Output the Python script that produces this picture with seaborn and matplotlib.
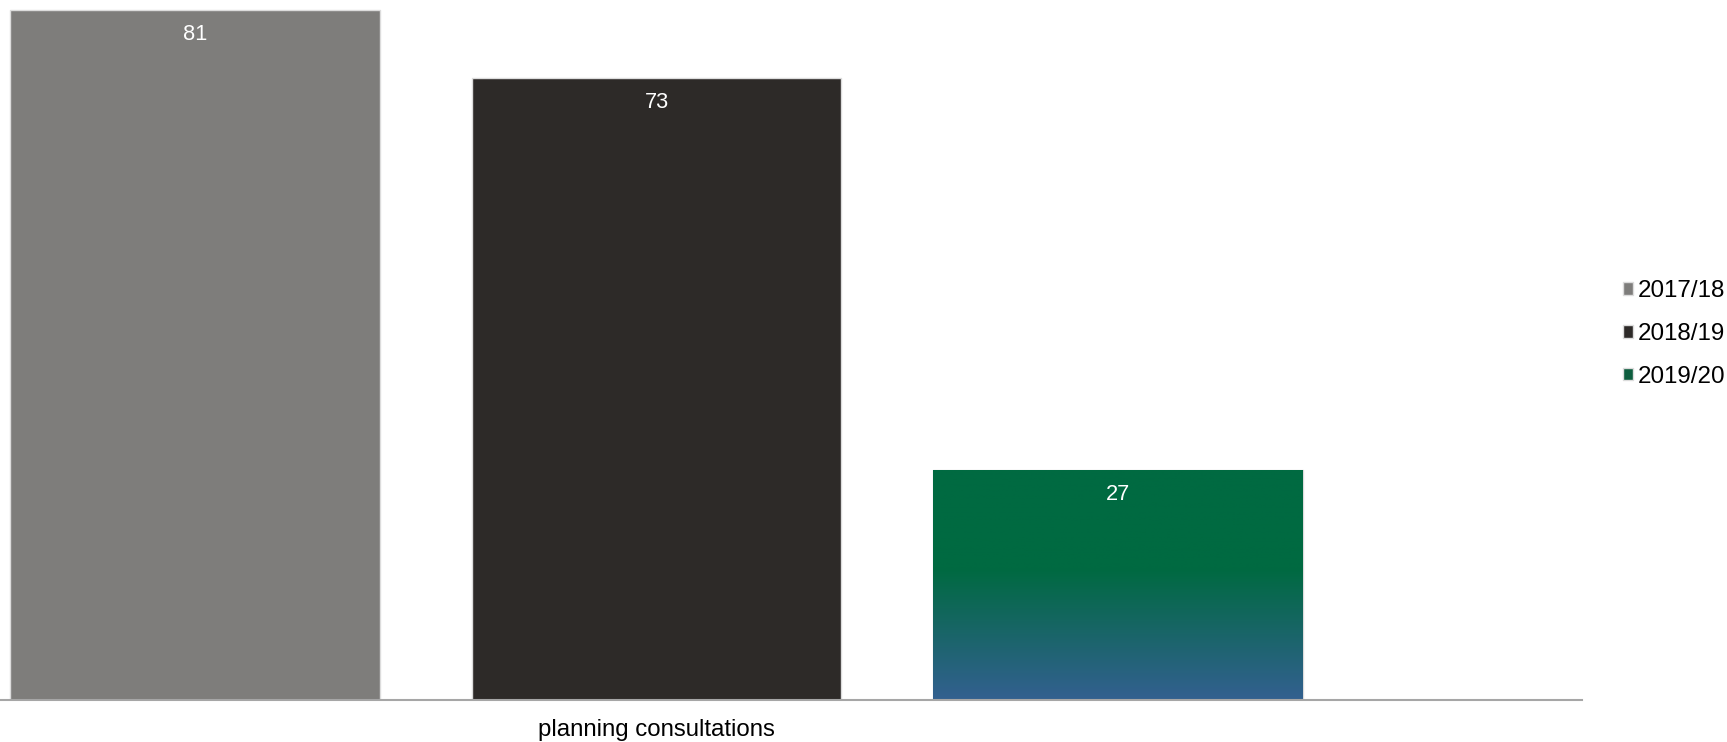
import numpy as np
import pandas as pd
import seaborn as sns
import matplotlib.pyplot as plt
from matplotlib.colors import LinearSegmentedColormap

# data
years = ['2017/18', '2018/19', '2019/20']
values = [81, 73, 27]
category = 'planning consultations'
bar_colors = ['#7f7d7a', '#2e2a27', '#006a41']

df = pd.DataFrame({'year': years, 'value': values})

sns.set_style('white')
plt.rcParams['font.family'] = ['Liberation Sans', 'DejaVu Sans']

fig = plt.figure(figsize=(17.27, 7.42), dpi=100)
ax = fig.add_axes([0, 42 / 742, 1582 / 1727, 700 / 742])

sns.barplot(data=df, x='year', y='value', hue='year', palette=bar_colors,
            width=0.8, edgecolor='#dcdcdc', linewidth=1, ax=ax, legend=True)

# gradient fill on the last bar (green on top, blue at the bottom)
grad = LinearSegmentedColormap.from_list(
    'gb', [(0, '#336090'), (0.57, '#006a41'), (1, '#006a41')])
p = ax.patches[2]
x0, y0 = p.get_x(), p.get_y()
w, h = p.get_width(), p.get_height()
img = ax.imshow(np.linspace(0, 1, 256).reshape(-1, 1), cmap=grad, origin='lower',
                extent=[x0, x0 + w, y0, y0 + h], aspect='auto', zorder=1.5)
img.set_clip_path(p)

ax.set_xlim(-195 / 461.5, (1582 - 195) / 461.5)
ax.set_ylim(0, 81 * 700 / 690)

# value labels inside the bar tops
for cont in ax.containers:
    for t in ax.bar_label(cont, padding=-17.5, color='white', fontsize=15.7):
        t.set_va('center')
        t.set_zorder(3)

# axis styling
for s in ['top', 'left', 'right']:
    ax.spines[s].set_visible(False)
ax.spines['bottom'].set_color('#a6a6a6')
ax.spines['bottom'].set_linewidth(1.5)
ax.set_yticks([])
ax.set_xticks([1])
ax.set_xticklabels([category], fontsize=17.3, color='#000000')
ax.tick_params(axis='x', length=0, pad=13.5)
ax.set_xlabel('')
ax.set_ylabel('')

handles, labels = ax.get_legend_handles_labels()
ax.legend(handles, labels, loc='center left', bbox_to_anchor=(1623 / 1727, 408 / 742),
          bbox_transform=fig.transFigure, frameon=False, fontsize=17.4,
          labelcolor='black', handlelength=0.41, handleheight=0.41,
          handletextpad=0.2, labelspacing=0.86, borderpad=0, borderaxespad=0)

fig.savefig('out.png', dpi=100)
